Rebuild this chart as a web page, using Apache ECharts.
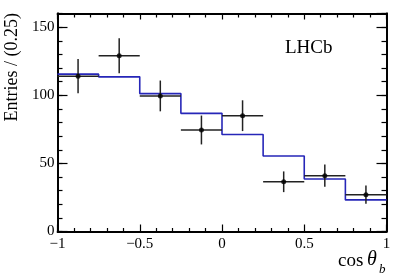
<!DOCTYPE html>
<html>
<head>
<meta charset="utf-8">
<script src="https://cdn.jsdelivr.net/npm/echarts@6/dist/echarts.min.js"></script>
<style>
html,body{margin:0;padding:0;background:#fff;}
#c{width:407px;height:276px;}
</style>
</head>
<body>
<div id="c"></div>
<script>
// ---- data ----
var binCenters = [-0.875, -0.625, -0.375, -0.125, 0.125, 0.375, 0.625, 0.875];
var binHalfWidth = [0.125, 0.125, 0.125, 0.125, 0.125, 0.125, 0.125, 0.125];
var dataY = [114, 129, 99.5, 74.5, 85, 36.5, 41, 27];
var dataErr = [12.6, 12.8, 11.3, 10.6, 11.3, 7.6, 8.1, 6.7];
var fitY = [115.5, 113.5, 101.2, 86.7, 71.2, 55.4, 38.5, 23.2];
var xTickLabels = ['\u22121', '\u22120.5', '0', '0.5', '1'];
var yTickLabels = ['0', '50', '100', '150'];

var FONT = 'Liberation Serif';
var blue = '#2626b8';

// histogram edges
var histData = [];
for (var i = 0; i < binCenters.length; i++) {
  histData.push([binCenters[i] - binHalfWidth[i], fitY[i]]);
}
histData.push([binCenters[binCenters.length - 1] + binHalfWidth[binHalfWidth.length - 1], fitY[fitY.length - 1]]);

var errData = binCenters.map(function (x, i) { return [x, dataY[i], dataErr[i], binHalfWidth[i]]; });
var ptData = binCenters.map(function (x, i) { return [x, dataY[i]]; });

function xLabel(v) {
  var idx = Math.round((v + 1) / 0.5);
  return xTickLabels[idx] !== undefined ? xTickLabels[idx] : '';
}
function yLabel(v) {
  var idx = Math.round(v / 50);
  return (v % 50 === 0 && yTickLabels[idx] !== undefined) ? yTickLabels[idx] : '';
}

function line() { return { show: true, onZero: false, lineStyle: { color: '#000', width: 1.8 } }; }
function tick(len) { return { show: true, inside: true, length: len, lineStyle: { color: '#000', width: 1.2 } }; }

var chart = echarts.init(document.getElementById('c'));
chart.setOption({
  animation: false,
  grid: { left: 57.5, right: 20.5, top: 13.5, bottom: 44.5 },
  xAxis: [
    {
      type: 'value', min: -1, max: 1, interval: 0.5, position: 'bottom',
      axisLine: line(), axisTick: tick(7),
      minorTick: { show: true, splitNumber: 5, length: 3.5, lineStyle: { color: '#000', width: 1.2 } },
      splitLine: { show: false }, minorSplitLine: { show: false },
      axisLabel: { formatter: xLabel, fontFamily: FONT, fontSize: 15, color: '#000', margin: 5 }
    },
    {
      type: 'value', min: -1, max: 1, interval: 0.5, position: 'top',
      axisLine: line(), axisTick: tick(6),
      minorTick: { show: true, splitNumber: 5, length: 4, lineStyle: { color: '#000', width: 1.2 } },
      splitLine: { show: false },
      axisLabel: { show: false }
    }
  ],
  yAxis: [
    {
      type: 'value', min: 0, max: 160, interval: 50, position: 'left',
      axisLine: line(), axisTick: tick(10),
      splitLine: { show: false },
      axisLabel: { formatter: yLabel, showMaxLabel: false, fontFamily: FONT, fontSize: 15, color: '#000', margin: 3 }
    },
    {
      type: 'value', min: 0, max: 160, interval: 10, position: 'left', offset: 0,
      axisLine: line(), axisTick: tick(5),
      splitLine: { show: false },
      axisLabel: { show: false }
    },
    {
      type: 'value', min: 0, max: 160, interval: 50, position: 'right', offset: 0,
      axisLine: line(), axisTick: tick(10),
      splitLine: { show: false },
      axisLabel: { show: false }
    },
    {
      type: 'value', min: 0, max: 160, interval: 10, position: 'right', offset: 0,
      axisLine: line(), axisTick: tick(5),
      splitLine: { show: false },
      axisLabel: { show: false }
    }
  ],
  series: [
    {
      type: 'line', step: 'end', data: histData, showSymbol: false, symbol: 'none',
      lineStyle: { color: blue, width: 1.6 }, z: 2
    },
    {
      type: 'custom', data: errData, z: 3,
      renderItem: function (params, api) {
        var x = api.value(0), y = api.value(1), e = api.value(2), hw = api.value(3);
        var l = api.coord([x - hw, y]), r = api.coord([x + hw, y]);
        var t = api.coord([x, y + e]), b = api.coord([x, y - e]);
        var st = { stroke: '#222', lineWidth: 1.5 };
        return {
          type: 'group', children: [
            { type: 'line', shape: { x1: l[0], y1: l[1], x2: r[0], y2: r[1] }, style: st },
            { type: 'line', shape: { x1: t[0], y1: t[1], x2: b[0], y2: b[1] }, style: st }
          ]
        };
      }
    },
    {
      type: 'scatter', data: ptData, symbol: 'circle', symbolSize: 5,
      itemStyle: { color: '#000' }, z: 4
    }
  ],
  graphic: [
    { type: 'text', x: 12.5, y: 13, rotation: Math.PI / 2,
      style: { text: 'Entries / (0.25)', fontFamily: FONT, fontSize: 18, fill: '#000', align: 'right', verticalAlign: 'middle' } },
    { type: 'text', x: 285, y: 48.5,
      style: { text: 'LHCb', fontFamily: FONT, fontSize: 19, fill: '#000', align: 'left', verticalAlign: 'middle' } },
    { type: 'text', x: 338, y: 261,
      style: { text: 'cos', fontFamily: FONT, fontSize: 19, fill: '#000', align: 'left', verticalAlign: 'middle' } },
    { type: 'text', x: 367, y: 260,
      style: { text: '\u03b8', fontFamily: FONT, fontStyle: 'italic', fontSize: 20, fill: '#000', align: 'left', verticalAlign: 'middle' } },
    { type: 'text', x: 379, y: 270,
      style: { text: 'b', fontFamily: FONT, fontStyle: 'italic', fontSize: 13, fill: '#000', align: 'left', verticalAlign: 'middle' } }
  ]
});
</script>
</body>
</html>
